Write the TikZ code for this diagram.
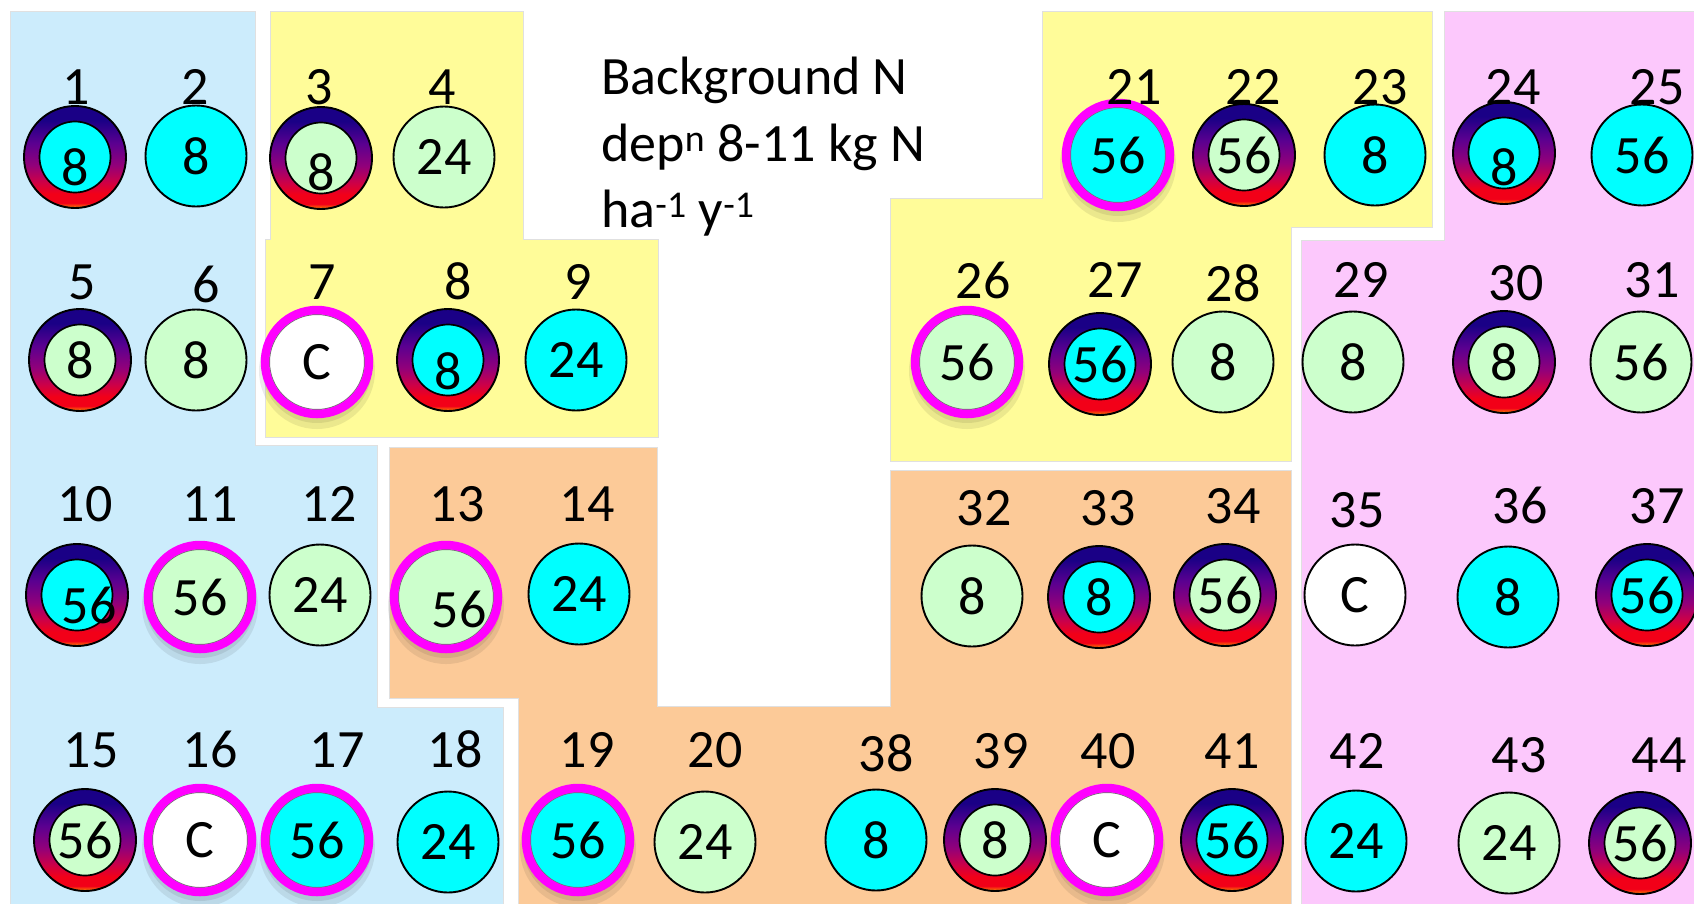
\documentclass[tikz,border=0pt]{standalone}
\usepackage{fontspec}
\setmainfont{Carlito}
\usetikzlibrary{calc}
\definecolor{bluebg}{HTML}{CCECFC}
\definecolor{yellowbg}{HTML}{FFFC99}
\definecolor{orangebg}{HTML}{FCCA98}
\definecolor{pinkbg}{HTML}{FCC8FC}
\definecolor{cyanc}{HTML}{00FFFF}
\definecolor{greenc}{HTML}{CCFFCC}
\definecolor{magc}{HTML}{FF00FF}
\definecolor{rnavy}{HTML}{1A0086}
\definecolor{rviolet}{HTML}{5A0090}
\definecolor{rpurple}{HTML}{92007A}
\definecolor{rcrimson}{HTML}{CC0048}
\definecolor{rred}{HTML}{F20018}
\definecolor{rorange}{HTML}{FF8C00}
\pgfdeclareverticalshading{ringshade}{100bp}{color(0bp)=(rorange); color(25bp)=(rorange); color(27.5bp)=(rred); color(32bp)=(rred); color(38bp)=(rcrimson); color(46bp)=(rpurple); color(57bp)=(rviolet); color(68bp)=(rnavy); color(100bp)=(rnavy)}
\newcommand\numfont{\fontsize{54}{60}\selectfont}
\tikzset{
  region/.style={draw=black!12, line width=1pt},
  disc/.style={circle, draw=black, line width=1.9pt, minimum size=101pt, inner sep=0pt, font=\numfont},
  ringdisc/.style={circle, draw=black, line width=1.9pt, minimum size=102pt, inner sep=0pt, shade, shading=ringshade},
  innerdisc/.style={circle, draw=black, line width=1.7pt, minimum size=71pt, inner sep=0pt},
  magring/.style={circle, draw=magc, line width=8.5pt, minimum size=104pt, inner sep=0pt},
  innershade/.style={draw=black!55, line width=1pt},
  shadowdisc/.style={fill=black, opacity=0.08},
  lbl/.style={font=\numfont, anchor=base, inner sep=0pt},
  numtxt/.style={font=\numfont, inner sep=0pt},
  ttl/.style={font=\numfont, anchor=base west, inner sep=0pt}
}
% plain disc: id, x, y, fill, text
\newcommand\pd[5]{\node[disc, fill=#4] (c#1) at (#2,#3) {#5};}
% ring disc: id, x, y, inner fill, text, dx, dy
\newcommand\rd[7]{%
  \node[ringdisc] (c#1) at (#2,#3) {};
  \node[innerdisc, fill=#4] (i#1) at (c#1) {};
  \node[numtxt] (t#1) at ($(c#1)+(#6,#7)$) {#5};}
% magenta disc: id, x, y, fill, text, dx, dy
\newcommand\md[7]{%
  \fill[shadowdisc] ($(#2,#3)+(0,9)$) circle[radius=58pt];
  \fill[shadowdisc] ($(#2,#3)+(0,6)$) circle[radius=55pt];
  \node[disc, fill=#4] (c#1) at (#2,#3) {};
  \draw[innershade] (c#1) circle[radius=47.5pt];
  \node[magring] (m#1) at (c#1) {};
  \node[numtxt] (t#1) at ($(c#1)+(#6,#7)$) {#5};}
% label: id, x, baseline y, text
\newcommand\lab[4]{\node[lbl] (l#1) at (#2,#3) {#4};}
\begin{document}
\begin{tikzpicture}[x=1pt,y=-1pt]
\useasboundingbox (0,0) rectangle (1694,903);
\clip (0,0) rectangle (1694,903);
\fill[white] (0,0) rectangle (1694,903);
% regions
\filldraw[region, fill=bluebg] (10,11) -- (255,11) -- (255,445) -- (377,445) -- (377,707) -- (503,707) -- (503,910) -- (10,910) -- cycle;
\filldraw[region, fill=yellowbg] (270,11) -- (523,11) -- (523,239) -- (658,239) -- (658,437) -- (265,437) -- (265,239) -- (270,239) -- cycle;
\filldraw[region, fill=orangebg] (389,447) -- (657,447) -- (657,706) -- (890,706) -- (890,470) -- (1291,470) -- (1291,910) -- (518,910) -- (518,698) -- (389,698) -- cycle;
\filldraw[region, fill=yellowbg] (1042,11) -- (1432,11) -- (1432,227) -- (1291,227) -- (1291,461) -- (890,461) -- (890,198) -- (1042,198) -- cycle;
\filldraw[region, fill=pinkbg] (1444,11) -- (1700,11) -- (1700,910) -- (1301,910) -- (1301,240) -- (1444,240) -- cycle;
% title
\node[ttl] (t1) at (601,94) {Background N};
\node[ttl] (t2) at (601,161) {dep\textsuperscript{n} 8-11 kg N};
\node[ttl] (t3) at (601,227) {ha\textsuperscript{-1} y\textsuperscript{-1}};
% row 1
\rd{1}{75}{157}{cyanc}{8}{0}{10}
\pd{2}{196}{156}{cyanc}{8}
\rd{3}{321}{158}{greenc}{8}{0}{14}
\pd{4}{444}{157}{greenc}{24}
\md{21}{1118}{155}{cyanc}{56}{0}{0}
\rd{22}{1244}{155}{greenc}{56}{0}{0}
\pd{23}{1375}{155}{cyanc}{8}
\rd{24}{1504}{153}{cyanc}{8}{0}{14}
\pd{25}{1642}{155}{cyanc}{56}
\lab{1}{76}{104}{1}
\lab{2}{195}{104}{2}
\lab{3}{319}{104}{3}
\lab{4}{442}{104}{4}
\lab{21}{1134}{104}{21}
\lab{22}{1253}{104}{22}
\lab{23}{1380}{104}{23}
\lab{24}{1513}{104}{24}
\lab{25}{1657}{104}{25}
% row 2
\rd{5}{80}{360}{greenc}{8}{0}{0}
\pd{6}{196}{360}{greenc}{8}
\md{7}{317}{362}{white}{C}{0}{0}
\rd{8}{448}{360}{cyanc}{8}{0}{11}
\pd{9}{576}{360}{cyanc}{24}
\md{26}{967}{362}{greenc}{56}{0}{0}
\rd{27}{1100}{364}{cyanc}{56}{0}{0}
\pd{28}{1223}{362}{greenc}{8}
\pd{29}{1353}{362}{greenc}{8}
\rd{30}{1504}{362}{greenc}{8}{0}{0}
\pd{31}{1641}{362}{greenc}{56}
\lab{5}{82}{299}{5}
\lab{6}{206}{302}{6}
\lab{7}{322}{299}{7}
\lab{8}{458}{299}{8}
\lab{9}{578}{299}{9}
\lab{26}{983}{298}{26}
\lab{27}{1115}{297}{27}
\lab{28}{1233}{301}{28}
\lab{29}{1361}{297}{29}
\lab{30}{1516}{300}{30}
\lab{31}{1652}{297}{31}
% row 3
\rd{10}{77}{595}{cyanc}{56}{12}{10}
\md{11}{200}{597}{greenc}{56}{0}{0}
\pd{12}{320}{595}{greenc}{24}
\md{13}{446}{597}{greenc}{56}{13}{12}
\pd{14}{579}{594}{cyanc}{24}
\pd{32}{972}{596}{greenc}{8}
\rd{33}{1099}{597}{cyanc}{8}{0}{0}
\rd{34}{1225}{595}{greenc}{56}{0}{0}
\pd{35}{1355}{595}{white}{C}
\pd{36}{1508}{597}{cyanc}{8}
\rd{37}{1647}{595}{cyanc}{56}{0}{0}
\lab{10}{85}{521}{10}
\lab{11}{210}{521}{11}
\lab{12}{329}{521}{12}
\lab{13}{457}{521}{13}
\lab{14}{587}{521}{14}
\lab{32}{984}{525}{32}
\lab{33}{1108}{525}{33}
\lab{34}{1233}{523}{34}
\lab{35}{1357}{527}{35}
\lab{36}{1520}{523}{36}
\lab{37}{1657}{523}{37}
% row 4
\rd{15}{85}{840}{greenc}{56}{0}{0}
\md{16}{200}{840}{white}{C}{0}{0}
\md{17}{317}{840}{cyanc}{56}{0}{0}
\pd{18}{448}{842}{cyanc}{24}
\md{19}{578}{840}{cyanc}{56}{0}{0}
\pd{20}{705}{842}{greenc}{24}
\pd{38}{876}{840}{cyanc}{8}
\rd{39}{995}{840}{greenc}{8}{0}{0}
\md{40}{1107}{840}{white}{C}{0}{0}
\rd{41}{1232}{840}{cyanc}{56}{0}{0}
\pd{42}{1356}{841}{cyanc}{24}
\pd{43}{1509}{843}{greenc}{24}
\rd{44}{1640}{843}{greenc}{56}{0}{0}
\lab{15}{91}{767}{15}
\lab{16}{210}{767}{16}
\lab{17}{337}{767}{17}
\lab{18}{455}{767}{18}
\lab{19}{587}{767}{19}
\lab{20}{715}{767}{20}
\lab{38}{886}{771}{38}
\lab{39}{1001}{768}{39}
\lab{40}{1108}{768}{40}
\lab{41}{1232}{768}{41}
\lab{42}{1357}{768}{42}
\lab{43}{1519}{772}{43}
\lab{44}{1659}{772}{44}
\end{tikzpicture}
\end{document}
